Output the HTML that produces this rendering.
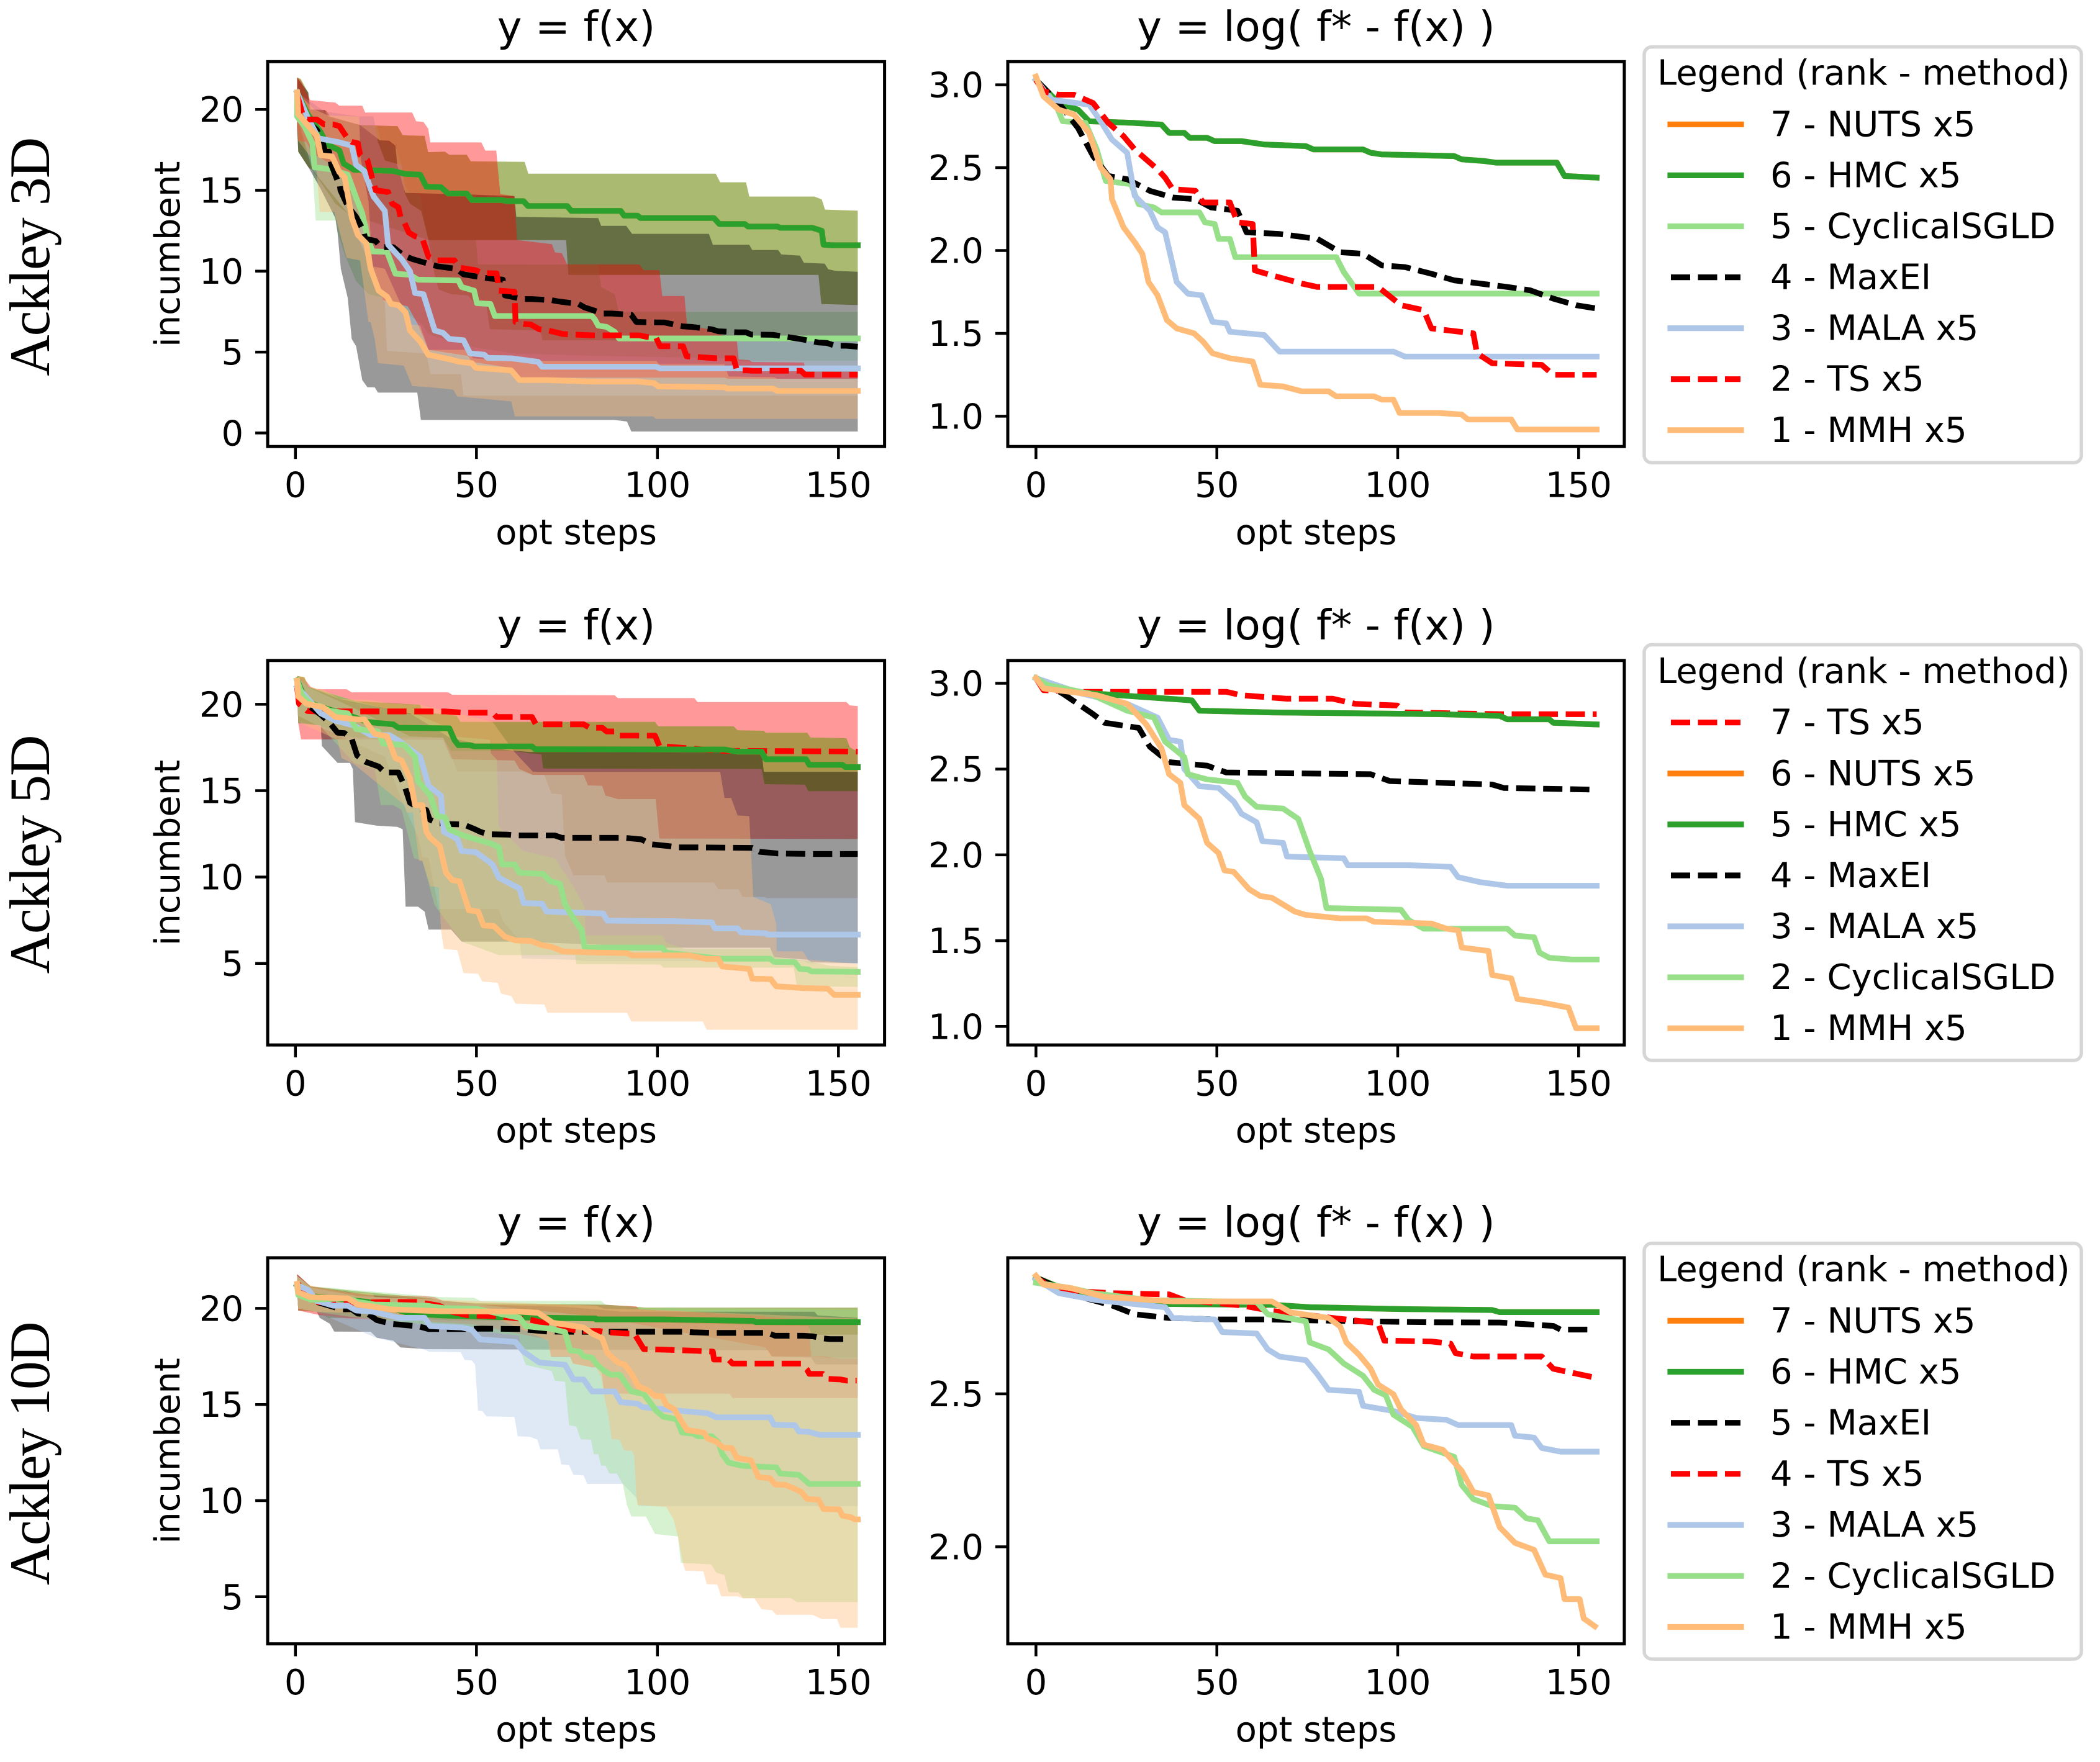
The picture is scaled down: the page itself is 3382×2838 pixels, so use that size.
<!DOCTYPE html>
<html lang="en">
<head>
<meta charset="utf-8">
<title>Ackley benchmark comparison</title>
<style>
html,body{margin:0;padding:0;background:#fff;}
svg{display:block;}
text{font-family:"DejaVu Sans",sans-serif;fill:#000;}
.tick{font-size:56px;}
.label{font-size:56px;text-anchor:middle;}
.title{font-size:67.2px;text-anchor:middle;}
.rowlabel{font-family:"Liberation Serif",serif;font-size:92px;text-anchor:middle;}
.lg{font-size:56px;}
.frame{fill:#fff;stroke:#d6d6d6;stroke-width:5.5;}
.h{stroke-width:9.2;fill:none;stroke-linecap:square;}
.d{stroke-width:9.2;fill:none;stroke-dasharray:31 12.5;}
</style>
</head>
<body>
<svg id="chart" xmlns="http://www.w3.org/2000/svg" width="3382" height="2838" viewBox="0 0 3382 2838">
<rect width="3382" height="2838" fill="#fff"/>
<g id="marks"></g>

<text class="rowlabel" transform="translate(79,413.3) rotate(-90)" textLength="385">Ackley 3D</text>
<text class="rowlabel" transform="translate(79,1376) rotate(-90)" textLength="385">Ackley 5D</text>
<text class="rowlabel" transform="translate(79,2340.8) rotate(-90)" textLength="425">Ackley 10D</text>

<text class="title" x="928" y="66">y = f(x)</text>
<text class="title" x="2119.5" y="66">y = log( f* - f(x) )</text>
<text class="title" x="928" y="1030">y = f(x)</text>
<text class="title" x="2119.5" y="1030">y = log( f* - f(x) )</text>
<text class="title" x="928" y="1992">y = f(x)</text>
<text class="title" x="2119.5" y="1992">y = log( f* - f(x) )</text>

<text class="label" x="928" y="876.5">opt steps</text>
<text class="label" x="2119.5" y="876.5">opt steps</text>
<text class="label" x="928" y="1840">opt steps</text>
<text class="label" x="2119.5" y="1840">opt steps</text>
<text class="label" x="928" y="2805">opt steps</text>
<text class="label" x="2119.5" y="2805">opt steps</text>

<text class="label" transform="translate(289,409.2) rotate(-90)">incumbent</text>
<text class="label" transform="translate(289,1373.5) rotate(-90)">incumbent</text>
<text class="label" transform="translate(289,2336.8) rotate(-90)">incumbent</text>

<g>
<rect class="frame" x="2648" y="75.6" width="704" height="669.6" rx="12"/>
<text class="lg" x="2669" y="136.6">Legend (rank - method)</text>
<line class="h" x1="2690" x2="2804" y1="200.3" y2="200.3" stroke="#ff7f0e"/><text class="lg" x="2851" y="219.3">7 - NUTS x5</text>
<line class="h" x1="2690" x2="2804" y1="282.4" y2="282.4" stroke="#2ca02c"/><text class="lg" x="2851" y="301.4">6 - HMC x5</text>
<line class="h" x1="2690" x2="2804" y1="364.5" y2="364.5" stroke="#98df8a"/><text class="lg" x="2851" y="383.5">5 - CyclicalSGLD</text>
<line class="d" x1="2691" x2="2803" y1="446.6" y2="446.6" stroke="#000"/><text class="lg" x="2851" y="465.6">4 - MaxEI</text>
<line class="h" x1="2690" x2="2804" y1="528.6" y2="528.6" stroke="#aec7e8"/><text class="lg" x="2851" y="547.6">3 - MALA x5</text>
<line class="d" x1="2691" x2="2803" y1="610.7" y2="610.7" stroke="#f00"/><text class="lg" x="2851" y="629.7">2 - TS x5</text>
<line class="h" x1="2690" x2="2804" y1="692.8" y2="692.8" stroke="#ffbb78"/><text class="lg" x="2851" y="711.8">1 - MMH x5</text>
</g>

<g>
<rect class="frame" x="2648" y="1038.5" width="704" height="669.5" rx="12"/>
<text class="lg" x="2669" y="1100">Legend (rank - method)</text>
<line class="d" x1="2691" x2="2803" y1="1163.7" y2="1163.7" stroke="#f00"/><text class="lg" x="2851" y="1182.7">7 - TS x5</text>
<line class="h" x1="2690" x2="2804" y1="1245.8" y2="1245.8" stroke="#ff7f0e"/><text class="lg" x="2851" y="1264.8">6 - NUTS x5</text>
<line class="h" x1="2690" x2="2804" y1="1327.9" y2="1327.9" stroke="#2ca02c"/><text class="lg" x="2851" y="1346.9">5 - HMC x5</text>
<line class="d" x1="2691" x2="2803" y1="1410" y2="1410" stroke="#000"/><text class="lg" x="2851" y="1429">4 - MaxEI</text>
<line class="h" x1="2690" x2="2804" y1="1492" y2="1492" stroke="#aec7e8"/><text class="lg" x="2851" y="1511">3 - MALA x5</text>
<line class="h" x1="2690" x2="2804" y1="1574.1" y2="1574.1" stroke="#98df8a"/><text class="lg" x="2851" y="1593.1">2 - CyclicalSGLD</text>
<line class="h" x1="2690" x2="2804" y1="1656.2" y2="1656.2" stroke="#ffbb78"/><text class="lg" x="2851" y="1675.2">1 - MMH x5</text>
</g>

<g>
<rect class="frame" x="2648" y="2002.5" width="704" height="669.6" rx="12"/>
<text class="lg" x="2669" y="2063.6">Legend (rank - method)</text>
<line class="h" x1="2690" x2="2804" y1="2127.3" y2="2127.3" stroke="#ff7f0e"/><text class="lg" x="2851" y="2146.3">7 - NUTS x5</text>
<line class="h" x1="2690" x2="2804" y1="2209.5" y2="2209.5" stroke="#2ca02c"/><text class="lg" x="2851" y="2228.5">6 - HMC x5</text>
<line class="d" x1="2691" x2="2803" y1="2291.7" y2="2291.7" stroke="#000"/><text class="lg" x="2851" y="2310.7">5 - MaxEI</text>
<line class="d" x1="2691" x2="2803" y1="2373.9" y2="2373.9" stroke="#f00"/><text class="lg" x="2851" y="2392.9">4 - TS x5</text>
<line class="h" x1="2690" x2="2804" y1="2456.1" y2="2456.1" stroke="#aec7e8"/><text class="lg" x="2851" y="2475.1">3 - MALA x5</text>
<line class="h" x1="2690" x2="2804" y1="2538.3" y2="2538.3" stroke="#98df8a"/><text class="lg" x="2851" y="2557.3">2 - CyclicalSGLD</text>
<line class="h" x1="2690" x2="2804" y1="2620.5" y2="2620.5" stroke="#ffbb78"/><text class="lg" x="2851" y="2639.5">1 - MMH x5</text>
</g>
</svg>

<script>
// Series are [opt step, value] readings.
const xTicks = [0, 50, 100, 150];
const yTicksF3 = [0, 5, 10, 15, 20];
const yTicksF5 = [5, 10, 15, 20];
const yTicksF10 = [5, 10, 15, 20];
const yTicksLog3 = [1.0, 1.5, 2.0, 2.5, 3.0];
const yTicksLog5 = [1.0, 1.5, 2.0, 2.5, 3.0];
const yTicksLog10 = [2.0, 2.5];

/* ---------- Ackley 3D, y = f(x) ---------- */
const f3Mmh = [[0,21.07],[0.3,19.74],[3.1,19],[5.4,18.4],[6.5,17.21],[9.6,17.14],[11.6,16.17],[13.05,15.87],[15.04,13.35],[16.7,12.31],[19,11.79],[20.2,10.23],[22.4,8.89],[24.7,8.52],[25.8,8.07],[27.8,8],[29.8,7.55],[31,6.44],[33.8,5.77],[36,4.95],[42.3,4.65],[44.6,4.51],[48,4.43],[49.1,4.14],[58.8,3.99],[61.1,3.39],[68.5,3.39],[81,3.3],[93.5,3.3],[98,3.21],[99.2,3],[117.4,2.95],[118.2,2.87],[130.7,2.87],[131.9,2.72],[154,2.72]];
const f3Ts = [[0,20.93],[1.4,19.81],[2.8,19.41],[5.4,19.41],[7.4,19.11],[9.9,19.11],[11.6,19],[13.6,18.33],[15,18.03],[16.7,17.95],[17.3,17.24],[19.3,16.91],[20.7,15.73],[21.6,15.06],[25,14.95],[26.1,14.24],[27.8,14.02],[28.4,13.42],[29.5,13.05],[30.7,12.45],[32.4,12.23],[34.4,12.08],[36.1,10.97],[38.4,10.75],[43.2,10.75],[44.6,10.3],[48.9,10.15],[50.9,9.97],[54.8,9.95],[55.1,9.48],[55.4,8.89],[59.7,8.82],[60,6.96],[62.2,6.84],[64.2,6.81],[66.5,6.51],[69,6.44],[73,6.22],[81,6.14],[94,6.14],[96,6.05],[98.6,6],[99.7,5.47],[106,5.47],[107,4.85],[115.4,4.73],[119.9,4.73],[120.8,3.99],[123.6,3.99],[125,3.96],[138.4,3.96],[139.5,3.73],[154,3.72]];
const f3Maxei = [[0,21.07],[2.5,19.37],[5.4,18.77],[7.1,17.95],[7.65,17.43],[8.8,17.43],[9.4,16.62],[11.1,15.65],[11.6,15.58],[11.9,15.06],[13.9,14.09],[16.2,13.42],[18.2,12.6],[18.7,12.08],[21.6,11.94],[23,11.56],[26.4,11.56],[29.3,11.04],[31.8,10.82],[36.4,10.52],[38.6,10.38],[43.8,10.23],[45.7,9.89],[50.6,9.71],[53.1,9.63],[56.5,9.56],[57.1,8.59],[62.2,8.37],[64.5,8.37],[69.9,8.3],[71.9,8.22],[77.3,8.07],[79,7.85],[84.1,7.48],[86.4,7.48],[91.8,7.4],[93.2,6.96],[98.9,6.93],[100.9,6.93],[106,6.69],[108.3,6.66],[113.9,6.51],[115.7,6.39],[121,6.33],[123.3,6.33],[124.7,6.19],[130.7,6.17],[135.8,6],[138.1,5.92],[143.2,5.7],[145.5,5.67],[147.8,5.5],[150.9,5.5],[154,5.44]];
const f3Mala = [[0,21.07],[2,20],[3,19.5],[5.9,18.25],[11.1,18.03],[15,17.8],[16.2,16.62],[18.45,16.24],[21,14.68],[24.1,13.79],[25,11.71],[28.7,10.82],[31,10.08],[32.4,8.74],[34.7,8.67],[37.8,6.44],[40.1,6.29],[41.8,5.92],[45.7,5.84],[47.5,5.03],[51.4,4.95],[52.3,4.76],[58.8,4.73],[62.2,4.63],[66.2,4.51],[67.3,4.21],[98.6,4.21],[99.7,4.11],[154,4.11]];
const f3Cyc = [[0,21.07],[0,19.59],[2,19],[4.2,17.95],[4.8,16.47],[9.1,16.35],[13.9,16.02],[16.2,14.61],[17.9,13.64],[19.3,12.16],[20.7,11.3],[24.7,11.27],[27,9.93],[31,9.86],[33.2,9.56],[44.3,9.52],[45.2,9.11],[48.6,8.89],[49.4,8.12],[53.1,8.07],[54.3,7.33],[81,7.33],[81.8,7.11],[82.7,6.74],[85,6.66],[87.2,6.36],[88.4,5.95],[154,5.95]];
const f3Hmc = [[0,21.07],[3,19.7],[6.5,18.62],[8.2,17.88],[11.6,17.51],[12.8,16.69],[15.6,16.32],[26.4,16.25],[29.5,16.07],[33.8,16.02],[35.5,15.28],[39.5,15.25],[41.5,14.86],[46.6,14.86],[48,14.46],[56,14.46],[57.7,14.39],[62.2,14.39],[63.4,14.09],[74.2,14.09],[75.3,13.79],[88.9,13.79],[89.8,13.5],[93.5,13.5],[94.3,13.35],[114.5,13.35],[116,12.98],[123,12.98],[123.9,12.83],[131.9,12.83],[132.7,12.75],[141.5,12.75],[144.1,12.57],[144.6,11.71],[146.9,11.68],[154,11.68]];

const f3HmcHi = [[0,22],[1,21.9],[3,21.07],[3.7,20],[8,19.95],[9,19.6],[17.3,19.07],[27.6,19],[29,18.44],[35,18.4],[36,17.4],[40.6,17.43],[41.8,17.24],[46.6,17.24],[47.7,16.84],[62.5,16.8],[63.5,16.08],[115,16.08],[116.2,15.55],[123.3,15.55],[124.2,14.67],[142.1,14.67],[144.1,14.5],[145,13.87],[154,13.8]];
const f3HmcLo = [[0,19],[0.3,17.43],[3.1,16.47],[4.2,16.3],[10.5,14.24],[13.9,13.64],[19.6,13.2],[36.1,12],[73.9,12],[74.5,9.86],[143.2,9.86],[144,8.07],[154,8]];
const f3CycHi = [[0,21.07],[3.4,20.03],[8.5,19.59],[17.3,19.07],[21.9,19],[23,18.13],[27,17.8],[28.7,16.6],[29.8,15.28],[31,14.9],[33.8,14.76],[34.7,13.64],[36.1,12],[49.1,12],[49.7,10.5],[82.7,10.49],[83.5,9.11],[87.2,8.67],[88.4,7.58],[154,7.58]];
const f3CycLo = [[0,19.59],[2.25,17.36],[4.25,16.32],[5.1,13.2],[10.5,13.2],[11.1,12.46],[13.3,10.97],[16.2,9.48],[19.6,8.67],[24.1,8.44],[34.4,6.81],[36.1,6.22],[46.9,5.47],[59.4,5.03],[82.1,4.88],[118.5,4.73],[121.3,4.58],[154,4.58]];
const f3MaxeiHi = [[0,21.97],[3.1,21.07],[3.4,20.03],[7.6,20],[8.5,19.59],[17.3,19.07],[22.7,18.13],[25.3,18.1],[27,17.8],[27.5,16.6],[29.7,14.9],[46.9,14.8],[59.7,14.7],[60.2,13.42],[82.7,13.35],[83.5,12.87],[90.4,12.87],[92,12.38],[113.1,12.38],[114.2,11.71],[124.2,11.71],[125,11.39],[132.1,11.39],[133,11.12],[138.1,11.04],[139.2,10.6],[144.9,10.55],[145.9,10.2],[147.8,10.11],[154,10.05]];
const f3MaxeiLo = [[0,19],[0.3,17.43],[3.1,16.47],[6.5,15.13],[10.5,13.35],[11.1,12.46],[12,10.23],[13.9,8.44],[15,5.92],[16.2,5.47],[17.9,3.39],[19.3,2.95],[21.3,2.95],[22.2,2.62],[33,2.62],[34,0.94],[87.2,0.94],[90.6,0.84],[91.8,0.23],[154,0.23]];
const f3MalaHi = [[0,21.07],[7.6,19.9],[17,19.6],[21,19.6],[22.1,18.1],[24.1,16.9],[28.7,16.6],[29.5,14.9],[31,14.24],[34.1,13.79],[36.1,11.98],[37.8,9.85],[38.9,8.96],[42.3,8.67],[46.9,8.59],[48.6,8.15],[52,8],[52.9,6.52],[66.8,6.44],[67.4,5.84],[81,5.84],[120.8,5.77],[154,5.77]];
const f3MalaLo = [[0,19.59],[4.2,16.32],[13.9,13.64],[19.6,10.67],[23.6,8.3],[24.1,8.15],[24.7,5.18],[35.5,5.03],[36.6,3.76],[45,3.76],[45.7,2.43],[154,2.43]];
const f3TsHi = [[0,22],[1,21.8],[3.6,20.6],[10.5,20.45],[11.6,20.26],[17.9,20.26],[18.7,19.84],[31.6,19.84],[32.7,19.3],[34.7,19.26],[36,18.85],[36.6,18],[50.6,18],[51.7,17.5],[54.7,17.5],[55.8,14.83],[59.7,14.7],[60.4,12],[70,11.75],[70.8,11.24],[72.7,11.2],[74.2,10.5],[94,10.5],[95.2,10.15],[99.5,10.15],[100.3,8.56],[106.4,8.56],[107.1,6.8],[113.4,6.5],[120.8,5.77],[121.3,4.66],[124.2,4.62],[125,4.5],[139.2,4.47],[139.8,3.9],[154,3.9]];
const f3TsLo = [[0,19],[0.3,18.1],[2.5,18.03],[4.2,17.36],[13.9,16.02],[16.5,14.76],[19.6,12.9],[20.7,10.38],[23.6,8.3],[30.4,7.92],[33.2,6.81],[36.1,5.25],[46.9,4.88],[48,4.51],[58.8,4.14],[61.1,3.54],[117.4,3.54],[118.5,3.47],[154,3.47]];
const f3MmhHi = [[0,21.07],[4.8,20.03],[8.5,19.66],[17,19.59],[17.5,17],[19.6,14.39],[20.7,10.38],[24.1,10.23],[31,6.81],[33.8,6.74],[36.1,5.25],[46.9,5.25],[48.3,4.73],[59.4,4.58],[98.6,4.58],[99.5,4.36],[117.4,4.36],[118.5,3.61],[131,3.57],[131.9,3.47],[154,3.47]];
const f3MmhLo = [[0,19.59],[0.3,18.1],[3.7,17.1],[5.4,16.17],[6.2,13.72],[10.2,13.72],[13.6,10.9],[17.3,10.75],[19.6,6.96],[20.2,6.96],[21.3,5.92],[22.2,4.43],[29.3,4.28],[31.6,3.02],[36.6,2.95],[42.9,2.8],[44,2.38],[58.8,2.08],[59.8,1.16],[97.7,1.16],[98.6,1],[154,1]];

/* ---------- Ackley 3D, log ---------- */
const g3Mmh = [[0,3.05],[2.1,2.93],[6.3,2.85],[10.5,2.82],[14.7,2.71],[17.9,2.5],[20.6,2.43],[21,2.31],[24.2,2.14],[27.3,2.05],[29.4,1.98],[31.1,1.81],[33.6,1.73],[36.2,1.58],[38.9,1.53],[43.7,1.5],[46.2,1.45],[48.8,1.38],[53.6,1.35],[59.9,1.33],[62,1.19],[68.3,1.18],[73.6,1.15],[80.9,1.15],[83,1.12],[93.5,1.12],[95.6,1.1],[98.8,1.1],[100.5,1.02],[111.4,1.02],[117.7,1.01],[119.4,0.98],[131.4,0.98],[133.1,0.92],[155,0.92]];
const g3Ts = [[0,3.03],[2.1,2.96],[6.3,2.94],[10.5,2.94],[15.8,2.89],[20,2.77],[24.2,2.69],[27.3,2.61],[33.6,2.49],[35.7,2.44],[37.8,2.37],[44.1,2.36],[46.2,2.29],[53.6,2.29],[55.7,2.17],[59.9,2.16],[60.5,1.88],[65.2,1.85],[73.6,1.8],[77.8,1.78],[94.6,1.78],[100.9,1.67],[107.2,1.64],[109.3,1.53],[120.9,1.5],[121.9,1.38],[126.1,1.32],[139.8,1.31],[143,1.25],[155,1.25]];
const g3Maxei = [[0,3.03],[6.3,2.89],[11.6,2.74],[15.8,2.57],[20,2.45],[25.2,2.43],[31.5,2.36],[37.8,2.32],[44.1,2.31],[48.4,2.26],[55.7,2.24],[58.2,2.11],[67.3,2.1],[77.8,2.07],[84.1,1.99],[90.4,1.98],[95.6,1.91],[102,1.9],[109.3,1.86],[115.6,1.82],[130.3,1.78],[136.6,1.76],[143,1.71],[149.3,1.67],[155,1.65]];
const g3Mala = [[0,3.03],[4.2,2.91],[14.7,2.88],[17.9,2.78],[21,2.67],[25.2,2.59],[27.3,2.33],[31.5,2.24],[33.6,2.14],[35.7,2.11],[38.9,1.81],[42,1.74],[45.8,1.73],[48.8,1.57],[52.6,1.56],[53.6,1.51],[63.1,1.49],[65.2,1.44],[67.3,1.39],[98.8,1.39],[102,1.36],[155,1.36]];
const g3Cyc = [[0,3.03],[5.3,2.89],[7.4,2.78],[13.7,2.77],[16.8,2.61],[19.3,2.42],[26.3,2.4],[28.4,2.28],[32.6,2.26],[34.7,2.23],[45.2,2.23],[46.7,2.17],[49.4,2.16],[50.5,2.07],[53.6,2.07],[55.1,1.96],[83,1.96],[85.1,1.87],[89.3,1.74],[155,1.74]];
const g3Hmc = [[0,3.03],[6.3,2.89],[11.6,2.85],[14.7,2.78],[27.3,2.77],[34.7,2.76],[36.8,2.71],[41,2.71],[42.5,2.68],[47.3,2.68],[49.4,2.66],[56.8,2.66],[63.1,2.64],[74.6,2.63],[76.7,2.61],[90.4,2.61],[92.5,2.59],[95.6,2.58],[115.6,2.57],[117.7,2.55],[124,2.54],[127.2,2.53],[144,2.53],[146.1,2.45],[155,2.44]];

/* ---------- Ackley 5D, y = f(x) ---------- */
const f5Ts = [[0,21.03],[0.5,20.06],[2.8,19.64],[5.4,19.61],[40.6,19.61],[45.7,19.54],[53.7,19.54],[54.8,19.29],[64.5,19.29],[65.6,18.87],[78.7,18.87],[80.4,18.67],[83.8,18.67],[85,18.46],[87.2,18.46],[88.1,18.22],[98.3,18.22],[99.5,17.62],[108.3,17.48],[115.7,17.35],[154,17.3]];
const f5Hmc = [[0,21.4],[2.5,20.2],[6,19.9],[14,19.4],[19.3,19.01],[22.4,18.94],[26.4,18.87],[27.8,18.67],[41.8,18.64],[43.2,17.97],[44.3,17.67],[47.5,17.67],[48.6,17.6],[64.5,17.6],[65.4,17.44],[117.4,17.42],[120.8,17.3],[127.6,17.3],[128.7,16.86],[139.8,16.86],[140.7,16.54],[149.8,16.54],[150.6,16.41],[154,16.41]];
const f5Maxei = [[0,21.17],[2.8,20],[6.5,19.43],[9,18.94],[11.1,18.39],[13,18.36],[15,18.04],[16.5,17.07],[18.7,16.72],[22.4,16.44],[24.1,16.1],[27.8,16.1],[29.5,15.33],[31,14.36],[33.8,14.01],[35.5,13.94],[36.4,13.39],[38.6,13.18],[42.3,13.13],[45.7,13.11],[48.9,12.83],[50.3,12.69],[52.3,12.55],[58,12.52],[60,12.48],[70.8,12.48],[72.7,12.34],[90,12.34],[94.6,12.25],[97.2,11.97],[102.3,11.86],[104.6,11.79],[110,11.79],[125,11.76],[127,11.54],[132.1,11.44],[142.1,11.41],[154,11.41]];
const f5Mala = [[0,21.03],[6.5,19.5],[10.5,19.08],[15.6,18.8],[20.2,18.25],[25.3,18.25],[28.1,17.9],[33.8,17],[36.1,15.33],[39.5,14.77],[40.3,12.69],[44,12.27],[45.2,11.58],[49.1,11.51],[53.7,10.81],[55.4,10.05],[61.1,9.42],[62.2,8.59],[67.3,8.55],[68.5,8.1],[84.1,7.99],[85.2,7.58],[103.1,7.55],[113.9,7.48],[114.8,7.13],[121,7.13],[121.9,6.9],[128.7,6.85],[129.3,6.77],[154,6.77]];
const f5Cyc = [[0,21.38],[1.4,20.54],[4,19.99],[6.2,19.92],[9,19.64],[13.9,19.5],[16.2,18.6],[22.2,18.46],[23.6,17.76],[29.3,17.69],[32.4,17],[33.2,15.61],[36.6,14.77],[38.4,13.59],[40.6,13.52],[41.8,12.83],[45.5,12.48],[53.4,12],[55.4,11.79],[56.3,10.81],[59.7,10.81],[61.1,10.33],[67.6,10.26],[69.6,9.84],[72.2,9.7],[73.6,8.52],[76.4,7.55],[78.1,7.06],[79,6.02],[100.3,6.02],[101.4,5.74],[116.2,5.39],[129.9,5.39],[131,5.21],[136.7,5.19],[138.1,4.8],[140.4,4.77],[141.2,4.66],[154,4.63]];
const f5Mmh = [[0,21.38],[0.3,20.47],[2.5,20.06],[7.1,19.85],[10.5,19.29],[16.7,19.15],[18.45,19.15],[21.3,18.32],[24.7,18.18],[27,16.93],[28.7,16.79],[31,15.75],[32.4,14.22],[34.4,14.22],[35.5,12.69],[36.6,12.34],[39.2,11.86],[40.9,10.33],[42.6,9.91],[44.6,9.84],[47.2,8.17],[49.7,8.1],[51.2,7.3],[54,7.27],[57.1,6.65],[60,6.44],[64.2,6.41],[67.3,6.16],[69.6,6.09],[73,5.81],[82.1,5.74],[90.6,5.71],[92,5.58],[107.7,5.58],[112.5,5.37],[115.7,5.37],[116.8,4.94],[124.2,4.8],[125,4.24],[130.1,4.21],[131.6,3.8],[138.9,3.7],[145.8,3.66],[147.5,3.31],[154,3.31]];

const f5TsHi = [[0,21.65],[1.7,21.58],[3.7,21.03],[5.4,20.89],[13.6,20.89],[15,20.71],[41.5,20.71],[42.6,20.57],[87.2,20.54],[88.1,20.38],[109.1,20.38],[110,20.15],[150.9,20.15],[151.8,19.96],[154,19.92]];
const f5TsLo = [[0,20.47],[0.3,18.94],[1.1,18],[15.6,18],[40.1,17.97],[42.3,16.86],[59.7,16.79],[61.1,16.3],[64.8,15.96],[78.7,15.96],[79.9,15.36],[83.8,15.33],[84.7,14.77],[88.1,14.57],[98.5,14.57],[99.5,12.3],[154,12.27]];
const f5HmcHi = [[0,21.65],[2,21.58],[3.1,21.03],[6.5,20.8],[10.5,20.54],[16.2,20.2],[33.8,19.99],[34.4,19.57],[43.8,19.36],[44.9,19.01],[98.3,19.01],[99.2,18.76],[119.9,18.76],[121,18.53],[128.2,18.5],[128.7,18.39],[140.1,18.39],[141,18.11],[150.9,18.07],[151.8,17.55],[154,17.3]];
const f5HmcLo = [[0,21],[0.3,19.01],[6.5,18.8],[11.1,18.39],[15.6,18.11],[40.1,18.11],[42.3,17.35],[59.4,17.35],[64,17.2],[67.1,17.14],[67.6,16.33],[127.6,16.3],[128.4,15.43],[139.5,15.4],[140.4,15.03],[154,15.03]];
const f5MmhHi = [[0,21.65],[2,21.58],[3.1,21.03],[7.1,20.89],[11.6,20.33],[20.7,20.26],[25.3,20.06],[33.8,19.99],[53.7,19.01],[59.4,17.35],[64.8,16.14],[116.2,16.14],[117.4,14.64],[119.2,14.64],[121,13.63],[124.2,13.59],[125.3,8.94],[130.1,8.52],[131.6,7.4],[131.7,5.81],[138.9,5.81],[140.4,5.33],[154,5.1]];
const f5MmhLo = [[0,21],[0.3,19.01],[11.1,17.97],[12.2,16.93],[15.6,16.58],[29.5,14.22],[30.1,13.8],[31.8,13.8],[33.5,11.02],[34.4,11.02],[36.6,9.56],[38.9,9.49],[39.5,7.06],[40.3,5.95],[44,5.88],[45.7,4.56],[49.7,4.52],[50.9,4.07],[55.1,4],[56,3.38],[58.8,3.24],[60,2.8],[67.9,2.75],[68.8,2.27],[90.6,2.27],[91.8,1.78],[111.4,1.78],[112.5,1.3],[154,1.3]];
const f5MaxeiHi = [[0,21.65],[3.1,21.03],[11.6,20.33],[31,19.5],[42,18.1],[56.6,17.42],[59.7,17.35],[64,17.28],[127.6,17.28],[128.2,16.14],[154,16.14]];
const f5MaxeiLo = [[0,21],[0.3,18.94],[6.5,18.8],[6.8,17.62],[11.1,16.65],[14.5,16.65],[15.3,16.3],[15.9,13.24],[21.9,13.04],[27.5,12.97],[29,12.83],[29.8,8.38],[33.2,8.38],[35,8.1],[36.1,7.06],[42.3,7.06],[45.2,6.37],[61.1,6.37],[82.1,6.2],[101.4,6.02],[129.9,6.02],[131,5.47],[140.1,5.33],[141.2,5.2],[154,5.12]];
const f5CycHi = [[0,21.65],[3.1,21.03],[16.2,20.2],[29.8,19.5],[33.8,19.36],[40.1,18.8],[42.3,18.18],[50,18.04],[53,17.97],[53.2,17.2],[54.8,16.86],[55.4,12.97],[62,11.6],[70.8,11.16],[76,9.5],[79,8.38],[79.3,6.74],[100.3,6.74],[101.4,6.3],[106.6,5.95],[129.9,5.95],[131.6,5.47],[140.1,5.25],[146.4,4.98],[154,4.9]];
const f5CycLo = [[0,21],[0.3,18.94],[6.2,18.8],[15.6,16.65],[21.3,16.3],[23,14.22],[26.4,14.22],[28.7,13.94],[32.1,11.16],[34.4,11.02],[37.8,8.45],[45.2,6.37],[55.4,5.6],[76.4,5.6],[76.7,5.07],[83.8,5.07],[99.7,5.05],[100.6,4.87],[136.4,4.87],[137.3,3.8],[154,3.77]];
const f5MalaHi = [[0,21.65],[3.1,21],[15.6,19.8],[31,18.18],[40.1,18.1],[42.3,17.07],[44,16.16],[61.7,16.16],[64.5,15.96],[67.9,15.96],[69.9,14.89],[72.7,14.84],[73.6,11.3],[75.9,10.19],[84.4,10.19],[85.2,9.77],[114.5,9.77],[115.7,9.38],[121.3,9.38],[122.3,8.94],[128.4,8.94],[129,8.87],[154,8.87]];
const f5MalaLo = [[0,21],[0.3,19.36],[6.8,18.67],[13.4,18.04],[24.1,17],[29.3,14.22],[33.2,12.4],[34.4,11.23],[36.1,11.16],[38.9,8.24],[55.4,8.24],[56.5,7.55],[61.1,6.44],[61.7,5.4],[76.4,5.32],[78.7,5.26],[139,5.26],[140.4,5.12],[154,5.12]];

/* ---------- Ackley 5D, log ---------- */
const g5Mmh = [[0,3.03],[2.1,2.97],[16.8,2.93],[25.2,2.88],[30.5,2.76],[34.7,2.62],[36.8,2.47],[39.9,2.42],[41,2.29],[45.2,2.21],[47.3,2.07],[50.5,2.01],[52.1,1.91],[54.7,1.9],[58.9,1.8],[62,1.76],[65.2,1.75],[71.5,1.67],[74.6,1.65],[84.1,1.63],[91.4,1.63],[93.5,1.61],[109.3,1.6],[113.5,1.57],[116.7,1.56],[117.7,1.46],[125.1,1.44],[126.1,1.3],[131.4,1.28],[133.1,1.16],[139.8,1.14],[147.2,1.11],[149.3,0.99],[155,0.99]];
const g5Cyc = [[0,3.03],[3.2,2.99],[14.7,2.94],[25.2,2.84],[32.6,2.8],[35.7,2.66],[41,2.57],[42,2.47],[47.3,2.44],[55.7,2.42],[57.8,2.34],[61,2.28],[68.3,2.27],[72.5,2.21],[75.7,2.02],[78.8,1.86],[80.3,1.69],[100.9,1.68],[103,1.62],[107.2,1.57],[130.3,1.57],[132.4,1.53],[137.7,1.52],[139.2,1.43],[141.9,1.4],[148.2,1.39],[155,1.39]];
const g5Mala = [[0,3.03],[12.6,2.94],[25.2,2.88],[33.6,2.8],[36.8,2.67],[39.9,2.66],[41,2.5],[45.2,2.4],[50.5,2.39],[54.7,2.31],[56.8,2.24],[61,2.19],[62.6,2.08],[68.3,2.07],[69.4,1.99],[85.1,1.98],[86.2,1.94],[103,1.94],[114.6,1.93],[116.7,1.87],[123,1.84],[130.3,1.82],[155,1.82]];
const g5Ts = [[0,3.03],[2.1,2.96],[12.6,2.95],[52.6,2.95],[56.8,2.93],[69.4,2.91],[82,2.91],[88.3,2.88],[99.9,2.87],[102,2.83],[128.2,2.82],[155,2.82]];
const g5Maxei = [[0,3.03],[7.4,2.94],[15.8,2.82],[18.9,2.77],[28.4,2.74],[31.5,2.63],[36.8,2.54],[47.3,2.52],[52.6,2.48],[92.5,2.47],[97.8,2.43],[126.1,2.41],[129.3,2.39],[155,2.38]];
const g5Hmc = [[0,3.03],[9.5,2.95],[43.1,2.9],[45.2,2.84],[65.2,2.83],[111.4,2.82],[128.2,2.81],[130.3,2.79],[141.9,2.79],[143,2.77],[155,2.76]];

/* ---------- Ackley 10D, y = f(x) ---------- */
const f10Mmh = [[0,21.29],[0.3,20.85],[3.7,20.6],[13.9,20.54],[16.7,20.22],[20.7,20.12],[25.3,19.97],[39.5,19.87],[61.1,19.85],[66.2,19.79],[70.2,19.28],[78.7,19.03],[81,18.72],[83.8,18.47],[85.2,17.72],[88.1,17.22],[90,17.1],[91.8,16.66],[93.8,15.97],[96.3,15.78],[98.3,15.49],[100.3,15.47],[101.4,15.03],[103.7,14.78],[105.4,14.22],[107.1,13.72],[111.7,13.59],[112.8,13.28],[115.1,13.12],[117.1,12.8],[119.4,12.78],[120.8,12.28],[124.7,12.15],[126.7,11.28],[129.9,11.22],[131.3,10.9],[134.1,10.88],[136.1,10.72],[138.4,10.53],[140.1,10.15],[143.2,10.11],[144.6,9.63],[148.9,9.61],[149.8,9.28],[152,9.21],[153.2,9.09],[154,9.09]];
const f10Cyc = [[0,21.22],[0.3,20.72],[3.7,20.47],[13.9,20.54],[16.7,20.35],[21.3,20.22],[35.5,20.16],[40.1,20.04],[49.1,20],[61.1,19.53],[62.8,19.1],[69.6,18.97],[73.6,18.79],[75,17.85],[77.6,17.78],[78.7,17.53],[81,17.47],[82.1,17.16],[84.4,16.78],[86.1,16.59],[88.6,16.59],[89.5,16.34],[91.8,15.72],[95.2,15.59],[97.2,15.09],[98.6,14.72],[100.6,14.41],[104.3,14.28],[105.7,13.59],[108.8,13.53],[110,13.4],[113.9,13.4],[115.7,13.09],[116.8,12.47],[118.5,12.03],[122.2,11.87],[131.6,11.78],[132.7,11.47],[137.8,11.4],[140.7,10.93],[154,10.93]];
const f10Mala = [[0,21.22],[3.1,20.97],[5.4,20.41],[9.9,20.16],[13.9,20.16],[16.2,19.91],[20.7,19.85],[28.1,19.53],[35,19.53],[36.6,19.1],[45.2,19.03],[48,18.91],[50.3,18.41],[60,18.28],[62.2,17.78],[66.5,17.22],[73.6,17.1],[75.9,16.34],[78.7,16.34],[81,15.72],[87.2,15.72],[88.9,15.16],[93.5,15.09],[94.9,14.91],[104.9,14.72],[112.8,14.59],[115.1,14.38],[129.9,14.38],[131,13.99],[136.7,13.97],[137.8,13.65],[140.4,13.63],[143.5,13.47],[154,13.47]];
const f10Ts = [[0.2,21.29],[1.4,20.95],[3.4,20.79],[5.4,20.35],[11.1,20.29],[25.3,20.35],[33.2,20.35],[39,20.16],[42.3,19.85],[46.9,19.66],[54.8,19.62],[62.2,19.47],[64.5,19.41],[68.2,19.25],[71.9,19.03],[75.6,18.91],[78.7,18.85],[83,18.85],[85.2,18.78],[90.3,18.72],[92.6,18.72],[95.2,17.91],[102.6,17.87],[110,17.82],[114.2,17.78],[114.5,17.37],[116.2,17.37],[118.5,17.37],[119.6,17.16],[138.4,17.16],[140.1,16.84],[140.7,16.63],[144.4,16.63],[145.8,16.37],[149.2,16.34],[150.9,16.28],[153.7,16.28]];
const f10Maxei = [[0,21.29],[5.4,20.35],[9.9,20.1],[12.2,19.97],[15,19.97],[16.7,19.75],[19.6,19.72],[21.9,19.41],[25.9,19.22],[31,19.13],[33.2,19.1],[36.1,18.95],[45.7,18.95],[50.9,18.97],[61.4,18.95],[63.4,18.91],[68.8,18.82],[75.3,18.81],[84.4,18.81],[91.5,18.81],[99.2,18.81],[106.6,18.81],[108.8,18.78],[114,18.75],[122.2,18.75],[129.3,18.75],[131.3,18.6],[139,18.6],[141.8,18.57],[144,18.47],[146.4,18.43],[151.8,18.43]];
const f10Hmc = [[0,21.22],[3.7,20.66],[19.6,20.35],[31,19.76],[39.5,19.66],[54.8,19.57],[82,19.5],[82.1,19.45],[100.3,19.45],[125.3,19.37],[126,19.31],[154,19.31]];

const f10MmhHi = [[0,21.7],[3.7,21.2],[13.9,20.85],[20.7,20.78],[21.3,20.6],[73,20.22],[82,20.16],[84.4,20],[93,19.97],[154,19.5]];
const f10MmhLo = [[0,21],[0.3,19.91],[5.4,19.85],[55,19.47],[69,18.35],[69.6,17.53],[75,17.53],[75.6,17.16],[81,16.97],[82.1,16.97],[83.5,16.47],[84.4,15.47],[85.5,14.47],[86.4,13.24],[88.6,13.22],[89.8,12.65],[92,12.65],[92.6,12.34],[93.2,10.34],[93.5,9.84],[101.4,9.74],[103.4,9.09],[104.6,8.21],[106,6.8],[106.6,6.44],[111.6,6.4],[112.5,5.74],[115.4,5.71],[116.5,5.11],[121,5.11],[122.5,5],[125.6,5],[127.6,4.43],[130.4,4.4],[131.6,4.15],[141.5,4.15],[144.1,3.93],[148.3,3.93],[149.2,3.48],[154,3.48]];
const f10TsHi = [[0,21.79],[3.7,21.16],[19.6,20.7],[35,20.66],[37.8,20.6],[40.1,20.41],[50.3,20.22],[84.7,20.2],[93.2,20.12],[94,19.97],[107.1,19.85],[124.2,19.66],[140.4,19.41],[141.2,17.53],[144.6,17.53],[149.2,17.41],[154,17.41]];
const f10TsLo = [[0,21],[0.3,19.91],[5.4,19.7],[13.9,19.5],[30,19.4],[48,19.2],[69,18.4],[69.8,17.5],[75,17.5],[75.9,17.16],[81,16.97],[83.5,16.97],[84.4,15.6],[118.8,15.6],[119.6,15.38],[154,15.38]];
const f10HmcHi = [[0,21.72],[3.7,21.16],[16.2,20.91],[36.6,20.54],[40.1,20.41],[49.1,20.29],[84.4,20.22],[95.8,20.06],[154,20.06]];
const f10HmcLo = [[0,21],[0.3,19.91],[5.4,19.85],[8.8,19.53],[31,19.5],[42.3,19.4],[82,19.35],[140.4,19.1],[141.2,18.66],[154,18.66]];
const f10CycHi = [[0,21.7],[3.7,21.16],[8.2,21.1],[13.9,21],[19.6,20.91],[39.5,20.6],[48.6,20.57],[50.3,20.41],[83.5,20.41],[84.7,20.22],[95.8,20.04],[154,19.97]];
const f10CycLo = [[0,21],[0.3,20],[5,19.85],[13.9,19.6],[35,19.2],[61,18.6],[61.7,17.66],[62.8,17.1],[69.9,16.78],[70.8,16.28],[73.6,16.22],[74.7,13.97],[76.7,13.9],[77.9,13.24],[80.7,13.22],[81.5,12.47],[82.7,12.47],[83.5,11.87],[84.7,11.87],[85.8,11.47],[87.8,11.47],[89.5,10.9],[90.6,9.84],[91.8,9.24],[95.8,9.24],[98.3,8.34],[104.6,8.21],[105.4,6.84],[113.7,6.77],[115.1,6.34],[117.4,6.21],[118.5,5.33],[121.3,5.31],[122.5,5.02],[135.5,5.02],[137.3,4.81],[154,4.81]];
const f10MaxeiHi = [[0,21.79],[3.7,21.16],[19.6,20.72],[39.5,20.41],[50.3,20.22],[73,20.1],[82.1,19.97],[88.9,19.85],[142.1,19.85],[143,19.66],[154,19.53]];
const f10MaxeiLo = [[0,21],[0.3,19.91],[5.4,19.85],[6.2,19.53],[9,19.22],[10.2,18.82],[20.2,18.81],[21.9,18.5],[26.4,18.35],[28.4,18],[35.5,17.91],[129.3,17.85],[130.4,17.53],[141.2,17.47],[142.4,17.12],[154,17.12]];
const f10MalaHi = [[0,21.72],[3.7,21.1],[16.7,20.66],[36.6,20.47],[82,19.6],[128.7,18],[129.9,17.53],[141.2,17.53],[146,17.47],[154,17.47]];
const f10MalaLo = [[0,21],[0.3,20],[5.1,19.85],[21.3,18.53],[35.5,17.85],[36.1,17.78],[44.9,17.75],[46,17.35],[48,17.32],[48.9,17.1],[49.7,14.72],[50.9,14.7],[52,14.43],[59.7,14.4],[60.6,13.4],[64,13.37],[66,13.22],[66.8,12.72],[71.6,12.72],[72.6,11.94],[74.7,11.9],[75.9,11.4],[78.7,11.37],[79.7,10.93],[89.5,10.93],[93.2,10.21],[93.8,9.78],[154,9.78]];

/* ---------- Ackley 10D, log ---------- */
const g10Mmh = [[0,2.886],[2.1,2.857],[9.5,2.846],[18.9,2.817],[37.8,2.802],[65.2,2.802],[70.4,2.766],[80.9,2.748],[84.1,2.72],[85.8,2.668],[89.3,2.628],[92.5,2.582],[94.6,2.53],[98.8,2.499],[100.9,2.449],[105.1,2.398],[107.2,2.334],[112.5,2.317],[117.7,2.248],[120.9,2.179],[125.1,2.168],[128.2,2.064],[132.4,2.013],[137.7,1.99],[140.8,1.909],[145,1.898],[146.1,1.829],[150.3,1.829],[151.4,1.766],[154.5,1.74]];
const g10Cyc = [[0,2.863],[9.5,2.846],[15.8,2.829],[31.5,2.806],[61,2.8],[64.1,2.76],[74.6,2.737],[75.7,2.668],[80.9,2.645],[85.1,2.599],[90.4,2.559],[93.5,2.513],[96.7,2.495],[98.8,2.432],[104.1,2.392],[107.2,2.329],[115.6,2.294],[117.7,2.202],[120.9,2.156],[126.1,2.133],[132.4,2.128],[135.6,2.093],[138.7,2.087],[141.9,2.018],[155,2.018]];
const g10Mala = [[0,2.875],[6.3,2.829],[16.8,2.806],[35.7,2.783],[37.8,2.748],[49.4,2.743],[51.5,2.702],[61,2.697],[64.1,2.645],[67.3,2.622],[74.6,2.61],[77.8,2.564],[80.9,2.513],[89.3,2.507],[90.4,2.461],[98.8,2.444],[105.1,2.421],[113.5,2.415],[116.7,2.398],[131.4,2.398],[132.4,2.363],[137.7,2.357],[139.8,2.323],[145,2.311],[155,2.311]];
const g10Ts = [[0,2.88],[5.3,2.84],[21,2.829],[36.8,2.825],[41,2.806],[56.8,2.789],[65.2,2.771],[82,2.748],[94.6,2.731],[96.3,2.674],[109.3,2.671],[114.6,2.664],[116,2.633],[120.9,2.622],[139.8,2.622],[143,2.582],[154.5,2.553]];
const g10Maxei = [[0,2.88],[10.5,2.823],[21,2.789],[27.3,2.76],[36.8,2.748],[50.5,2.743],[63.1,2.743],[90.4,2.737],[109.3,2.734],[128.2,2.733],[143,2.722],[145,2.71],[153.5,2.71]];
const g10Hmc = [[0,2.88],[10.5,2.829],[31.5,2.794],[65.2,2.791],[75.7,2.783],[101,2.777],[126.1,2.774],[128.2,2.767],[155,2.767]];

const NS = 'http://www.w3.org/2000/svg';
const marks = document.getElementById('marks');
const style = {
  nuts: {color: '#ff7f0e', dash: false},
  hmc: {color: '#2ca02c', dash: false},
  cyc: {color: '#98df8a', dash: false},
  maxei: {color: '#000000', dash: true},
  mala: {color: '#aec7e8', dash: false},
  ts: {color: '#ff0000', dash: true},
  mmh: {color: '#ffbb78', dash: false}
};

function mk(tag, attrs, parent) {
  const el = document.createElementNS(NS, tag);
  for (const k in attrs) el.setAttribute(k, attrs[k]);
  (parent || marks).appendChild(el);
  return el;
}

function linear(at, px, k) { return v => px + (v - at) * k; }

function drawPanel(p) {
  const tickX = linear(0, p.ax.x0, p.ax.xk);
  const tickY = linear(p.ax.yAt, p.ax.yPx, -p.ax.yk);
  const xs = p.mk ? linear(0, p.mk.x0, p.mk.xk) : tickX;
  const ys = p.mk ? linear(p.mk.yAt, p.mk.yPx, -p.mk.yk) : tickY;
  const pts = a => a.map(q => xs(q[0]).toFixed(1) + ',' + ys(q[1]).toFixed(1));

  const g = mk('g', {});
  
  

  p.bands.forEach(b => {
    const d = 'M' + pts(b.hi).join('L') + 'L' + pts(b.lo.slice().reverse()).join('L') + 'Z';
    const el = mk('path', {d: d, fill: style[b.key].color, 'fill-opacity': 0.4, stroke: 'none'}, g);
    
    
  });

  p.lines.forEach(l => {
    const s = style[l.key];
    const attrs = {d: 'M' + pts(l.data).join('L'), fill: 'none', stroke: s.color, 'stroke-width': 9.2, 'stroke-linejoin': 'round'};
    if (s.dash) { attrs['stroke-dasharray'] = '31 12.5'; } else { attrs['stroke-linecap'] = 'square'; }
    const el = mk('path', attrs, g);
    
    
  });

  const box = mk('rect', {x: p.left, y: p.top, width: p.right - p.left, height: p.bottom - p.top, fill: 'none', stroke: '#000', 'stroke-width': 5}, g);
  
  

  xTicks.forEach(t => {
    const m = mk('line', {x1: tickX(t), x2: tickX(t), y1: p.bottom, y2: p.bottom + 20, stroke: '#000', 'stroke-width': 4.5}, g);
    
    
    const tx = mk('text', {x: tickX(t), y: p.bottom + 81.5, class: 'tick', 'text-anchor': 'middle'}, g);
    tx.textContent = String(t);
    
    
  });

  p.yTicks.forEach(t => {
    const m = mk('line', {x1: p.left - 20, x2: p.left, y1: tickY(t), y2: tickY(t), stroke: '#000', 'stroke-width': 4.5}, g);
    
    
    const tx = mk('text', {x: p.left - 39, y: tickY(t) + 20, class: 'tick', 'text-anchor': 'end'}, g);
    tx.textContent = p.fmt(t);
    
    
  });
}

const LL = 431.1, LR = 1424.6, RL = 1623, RR = 2615.9;
const intFmt = t => String(t);
const decFmt = t => t.toFixed(1);

drawPanel({name: '3d-incumbent', left: LL, right: LR, top: 99.3, bottom: 719.2, yTicks: yTicksF3, fmt: intFmt,
  ax: {x0: 475.8, xk: 5.83, yAt: 0, yPx: 697.4, yk: 26.06},
  mk: {x0: 478.5, xk: 5.863, yAt: 0, yPx: 701, yk: 26.2},
  bands: [
    {key: 'nuts', hi: f3HmcHi, lo: f3HmcLo}, {key: 'hmc', hi: f3HmcHi, lo: f3HmcLo}, {key: 'cyc', hi: f3CycHi, lo: f3CycLo},
    {key: 'maxei', hi: f3MaxeiHi, lo: f3MaxeiLo}, {key: 'mala', hi: f3MalaHi, lo: f3MalaLo}, {key: 'ts', hi: f3TsHi, lo: f3TsLo}, {key: 'mmh', hi: f3MmhHi, lo: f3MmhLo}],
  lines: [{key: 'nuts', data: f3Hmc}, {key: 'hmc', data: f3Hmc}, {key: 'cyc', data: f3Cyc}, {key: 'maxei', data: f3Maxei}, {key: 'mala', data: f3Mala}, {key: 'ts', data: f3Ts}, {key: 'mmh', data: f3Mmh}]});

drawPanel({name: '3d-log', left: RL, right: RR, top: 99.3, bottom: 719.2, yTicks: yTicksLog3, fmt: decFmt, bands: [],
  ax: {x0: 1668.4, xk: 5.826, yAt: 3, yPx: 136.6, yk: 266.9},
  lines: [{key: 'nuts', data: g3Hmc}, {key: 'hmc', data: g3Hmc}, {key: 'cyc', data: g3Cyc}, {key: 'maxei', data: g3Maxei}, {key: 'mala', data: g3Mala}, {key: 'ts', data: g3Ts}, {key: 'mmh', data: g3Mmh}]});

drawPanel({name: '5d-incumbent', left: LL, right: LR, top: 1063.8, bottom: 1683.1, yTicks: yTicksF5, fmt: intFmt,
  ax: {x0: 475.8, xk: 5.83, yAt: 20, yPx: 1134.4, yk: 27.82},
  mk: {x0: 478.5, xk: 5.863, yAt: 20, yPx: 1135, yk: 28},
  bands: [
    {key: 'ts', hi: f5TsHi, lo: f5TsLo}, {key: 'nuts', hi: f5HmcHi, lo: f5HmcLo}, {key: 'hmc', hi: f5HmcHi, lo: f5HmcLo},
    {key: 'maxei', hi: f5MaxeiHi, lo: f5MaxeiLo}, {key: 'mala', hi: f5MalaHi, lo: f5MalaLo}, {key: 'cyc', hi: f5CycHi, lo: f5CycLo}, {key: 'mmh', hi: f5MmhHi, lo: f5MmhLo}],
  lines: [{key: 'ts', data: f5Ts}, {key: 'nuts', data: f5Hmc}, {key: 'hmc', data: f5Hmc}, {key: 'maxei', data: f5Maxei}, {key: 'mala', data: f5Mala}, {key: 'cyc', data: f5Cyc}, {key: 'mmh', data: f5Mmh}]});

drawPanel({name: '5d-log', left: RL, right: RR, top: 1063.8, bottom: 1683.1, yTicks: yTicksLog5, fmt: decFmt, bands: [],
  ax: {x0: 1668.4, xk: 5.826, yAt: 3, yPx: 1100.5, yk: 276.4},
  lines: [{key: 'ts', data: g5Ts}, {key: 'nuts', data: g5Hmc}, {key: 'hmc', data: g5Hmc}, {key: 'maxei', data: g5Maxei}, {key: 'mala', data: g5Mala}, {key: 'cyc', data: g5Cyc}, {key: 'mmh', data: g5Mmh}]});

drawPanel({name: '10d-incumbent', left: LL, right: LR, top: 2025.9, bottom: 2647.7, yTicks: yTicksF10, fmt: intFmt,
  ax: {x0: 475.8, xk: 5.83, yAt: 20, yPx: 2107.4, yk: 30.96},
  mk: {x0: 478.5, xk: 5.863, yAt: 20, yPx: 2108, yk: 31.1},
  bands: [
    {key: 'nuts', hi: f10HmcHi, lo: f10HmcLo}, {key: 'hmc', hi: f10HmcHi, lo: f10HmcLo}, {key: 'maxei', hi: f10MaxeiHi, lo: f10MaxeiLo},
    {key: 'ts', hi: f10TsHi, lo: f10TsLo}, {key: 'mala', hi: f10MalaHi, lo: f10MalaLo}, {key: 'cyc', hi: f10CycHi, lo: f10CycLo}, {key: 'mmh', hi: f10MmhHi, lo: f10MmhLo}],
  lines: [{key: 'nuts', data: f10Hmc}, {key: 'hmc', data: f10Hmc}, {key: 'maxei', data: f10Maxei}, {key: 'ts', data: f10Ts}, {key: 'mala', data: f10Mala}, {key: 'cyc', data: f10Cyc}, {key: 'mmh', data: f10Mmh}]});

drawPanel({name: '10d-log', left: RL, right: RR, top: 2025.9, bottom: 2647.7, yTicks: yTicksLog10, fmt: decFmt, bands: [],
  ax: {x0: 1668.4, xk: 5.826, yAt: 2.5, yPx: 2245, yk: 492.8},
  lines: [{key: 'nuts', data: g10Hmc}, {key: 'hmc', data: g10Hmc}, {key: 'maxei', data: g10Maxei}, {key: 'ts', data: g10Ts}, {key: 'mala', data: g10Mala}, {key: 'cyc', data: g10Cyc}, {key: 'mmh', data: g10Mmh}]});
</script>
</body>
</html>
